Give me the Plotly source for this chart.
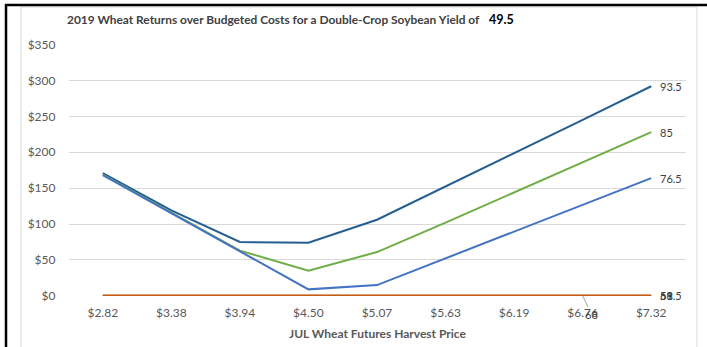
import plotly.graph_objects as go

W, H = 707, 347
TOP = 8                  # page offset above the figure
FIG_H = H + 2 * TOP      # requested figure height
DRAW_H = FIG_H - 2 * TOP  # height the figure is laid out at on the page

prices = ["$2.82", "$3.38", "$3.94", "$4.50", "$5.07", "$5.63", "$6.19", "$6.76", "$7.32"]
ret_935 = [171, 119, 75, 74, 106, 152, 199, 245, 292]
ret_85 = [169, 116, 63, 35, 61, 102, 144, 186, 228]
ret_765 = [168, 115, 62, 9, 15, 52, 90, 127, 164]
ret_zero = [0, 0, 0, 0, 0, 0, 0, 0, 0]

series = [
    ("93.5", ret_935, "#255E91"),
    ("85", ret_85, "#70AD47"),
    ("76.5", ret_765, "#4472C4"),
    ("68", ret_zero, "#C55A11"),
    ("59.5", ret_zero, "#C55A11"),
    ("51", ret_zero, "#C55A11"),
]

y_ticks = [0, 50, 100, 150, 200, 250, 300, 350]
y_ticktext = ["$" + str(v) for v in y_ticks]

FONT = "Lato"
GREY_TXT = "#595959"


def px_x(x):
    return x / W


def px_y(y):
    return 1 - (y - TOP) / DRAW_H


xs = list(range(len(prices)))
fig = go.Figure()
for name, vals, color in series:
    fig.add_trace(go.Scatter(x=xs, y=vals, mode="lines", name=name,
                             line=dict(color=color, width=2),
                             hoverinfo="skip"))

annotations = []
# end-of-line labels
for name, vals, color in series:
    annotations.append(dict(x=xs[-1], y=vals[-1], xref="x", yref="y",
                            text=name, showarrow=False, xanchor="left",
                            yanchor="middle", xshift=7,
                            font=dict(family=FONT, size=11, color="#404040")))
# dragged label with leader line
annotations.append(dict(x=xs[7], y=ret_zero[7], xref="x", yref="y",
                        text="68", showarrow=True, arrowhead=0, arrowwidth=0.8,
                        arrowcolor="#8C8C8C", ax=9, ay=19,
                        font=dict(family=FONT, size=11, color="#404040")))
# title
annotations.append(dict(x=px_x(65), y=px_y(19), xref="paper", yref="paper",
                        xanchor="left", yanchor="middle", showarrow=False,
                        text="<b>2019 Wheat Returns over Budgeted Costs for a Double-Crop Soybean Yield of</b>",
                        font=dict(family=FONT, size=11.9, color="#404040")))
annotations.append(dict(x=px_x(487), y=px_y(19), xref="paper", yref="paper",
                        xanchor="left", yanchor="middle", showarrow=False,
                        text="<b>49.5</b>",
                        font=dict(family=FONT, size=12.5, color="#000000")))
# x-axis title
annotations.append(dict(x=px_x(378), y=px_y(333), xref="paper", yref="paper",
                        xanchor="center", yanchor="middle", showarrow=False,
                        text="<b>JUL Wheat Futures Harvest Price</b>",
                        font=dict(family=FONT, size=12, color=GREY_TXT)))

shapes = [
    # chart area border
    dict(type="rect", xref="paper", yref="paper", x0=px_x(21), x1=px_x(697),
         y0=-0.2, y1=px_y(7), line=dict(color="#D9D9D9", width=1)),
    # outer frame (top and left)
    dict(type="line", xref="paper", yref="paper", x0=px_x(5), x1=1,
         y0=px_y(5), y1=px_y(5), line=dict(color="#000000", width=2.5)),
    dict(type="line", xref="paper", yref="paper", x0=px_x(6), x1=px_x(6),
         y0=px_y(4), y1=-0.2, line=dict(color="#000000", width=2.5)),
]

fig.update_layout(
    width=W, height=FIG_H,
    margin=dict(l=0, r=0, t=0, b=0),
    paper_bgcolor="white", plot_bgcolor="white",
    showlegend=False,
    font=dict(family=FONT, size=12, color=GREY_TXT),
    annotations=annotations,
    shapes=shapes,
    xaxis=dict(domain=[px_x(68.5), px_x(685.5)], range=[-0.5, 8.5],
               tickvals=xs, ticktext=prices, showgrid=False, zeroline=False,
               showline=False, ticks="", ticklabelstandoff=8,
               tickfont=dict(family=FONT, size=12, color=GREY_TXT),
               fixedrange=True),
    yaxis=dict(domain=[px_y(295), px_y(44.5)], range=[0, 350],
               tickvals=y_ticks, ticktext=y_ticktext, showgrid=True,
               gridcolor="#D9D9D9", gridwidth=1, zeroline=False,
               showline=False, ticks="", ticklabelstandoff=12,
               tickfont=dict(family=FONT, size=12, color=GREY_TXT),
               fixedrange=True),
)

fig.write_html("out.html")
